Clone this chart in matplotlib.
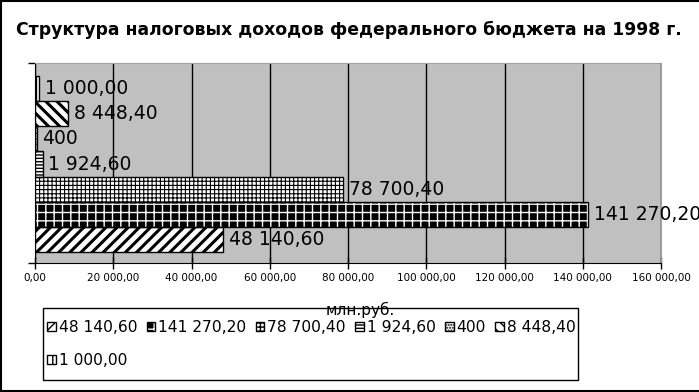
import matplotlib
matplotlib.use("Agg")
import matplotlib.pyplot as plt
from matplotlib.ticker import FuncFormatter
from matplotlib.lines import Line2D
from matplotlib.patches import Patch, Rectangle

# данные (млн.руб.)
values = [48140.60, 141270.20, 78700.40, 1924.60, 400, 8448.40, 1000.00]
labels = ["48 140,60", "141 270,20", "78 700,40", "1 924,60", "400", "8 448,40", "1 000,00"]
hatches = ["///", "++", "++++", "-----", "......", "\\\\\\", "|||"]
faces = ["white", "black", "white", "white", "white", "white", "white"]
hatch_col = ["black", "white", "black", "black", "black", "black", "black"]
hatch_lw = [2.2, 1.0, 0.8, 1.0, 1.0, 2.2, 1.5]

title = "Структура налоговых доходов федерального бюджета на 1998 г."
xlab = "млн.руб."

fig = plt.figure(figsize=(6.99, 3.92), dpi=100)
ax = fig.add_axes([35/699, 1-263/392, 626/699, 200/392])
ax.set_facecolor("#c0c0c0")

handles = []
for i in range(len(values)):
    b = ax.barh(i, values[i], height=1.0, color=faces[i], edgecolor=hatch_col[i],
                hatch=hatches[i], linewidth=0, zorder=3)
    for p in b.patches:
        if hasattr(p, "set_hatch_linewidth"):
            p.set_hatch_linewidth(hatch_lw[i])
    ax.barh(i, values[i], height=1.0, fill=False, edgecolor="black", linewidth=1, zorder=4)
    ax.text(values[i] + 1500, i, labels[i], va="center", ha="left", fontsize=13.5,
            zorder=5, clip_on=False)
    h = Patch(facecolor=faces[i], edgecolor=hatch_col[i], hatch=hatches[i], linewidth=0)
    if hasattr(h, "set_hatch_linewidth"):
        h.set_hatch_linewidth(min(hatch_lw[i], 1.2))
    h2 = Patch(fill=False, edgecolor="black", linewidth=1)
    handles.append((h, h2))

ax.set_xlim(0, 160000)
ax.set_ylim(-0.94, 7.02)
ax.set_xticks(range(0, 160001, 20000))
ax.xaxis.set_major_formatter(FuncFormatter(lambda v, p: "{:,.2f}".format(v).replace(",", " ").replace(".", ",")))
ax.tick_params(axis="x", labelsize=7.5, direction="inout", length=8, width=1)
ax.set_yticks([-0.94, 7.02])
ax.set_yticklabels([])
ax.tick_params(axis="y", direction="out", length=5, width=1)
ax.grid(axis="x", color="black", linewidth=1, zorder=1)
ax.set_axisbelow(True)
for s in ["top", "right"]:
    ax.spines[s].set_color("#a0a0a0")
    ax.spines[s].set_linewidth(0.8)

fig.text(349/699, 1-30/392, title, ha="center", va="center", fontsize=12.4, fontweight="bold")

# рамка легенды
fig.add_artist(Rectangle((43/699, 1-380/392), 535/699, 72/392, transform=fig.transFigure,
                         facecolor="white", edgecolor="black", linewidth=1, zorder=1))

# порядок для легенды: первая колонка 2 элемента
order = [0, 6, 1, 2, 3, 4, 5]
leg = fig.legend([handles[k] for k in order], [labels[k] for k in order], ncol=6,
                 loc="upper left", bbox_to_anchor=(47/699, 1-320/392), fontsize=11.2,
                 handlelength=0.55, handleheight=0.55, handletextpad=0.2, columnspacing=0.6,
                 borderpad=0.0, labelspacing=1.15, frameon=False, borderaxespad=0)
leg.set_zorder(2)

fig.text(360/699, 1-310/392, xlab, ha="center", va="center", fontsize=11, zorder=10)

# рамка рисунка
for xs, ys in [([0.001, 0.001], [0, 1]), ([0, 1], [0.998, 0.998]), ([0, 1], [0.002, 0.002])]:
    fig.add_artist(Line2D(xs, ys, color="black", linewidth=1.5, transform=fig.transFigure))

fig.savefig("out.png", dpi=100)
